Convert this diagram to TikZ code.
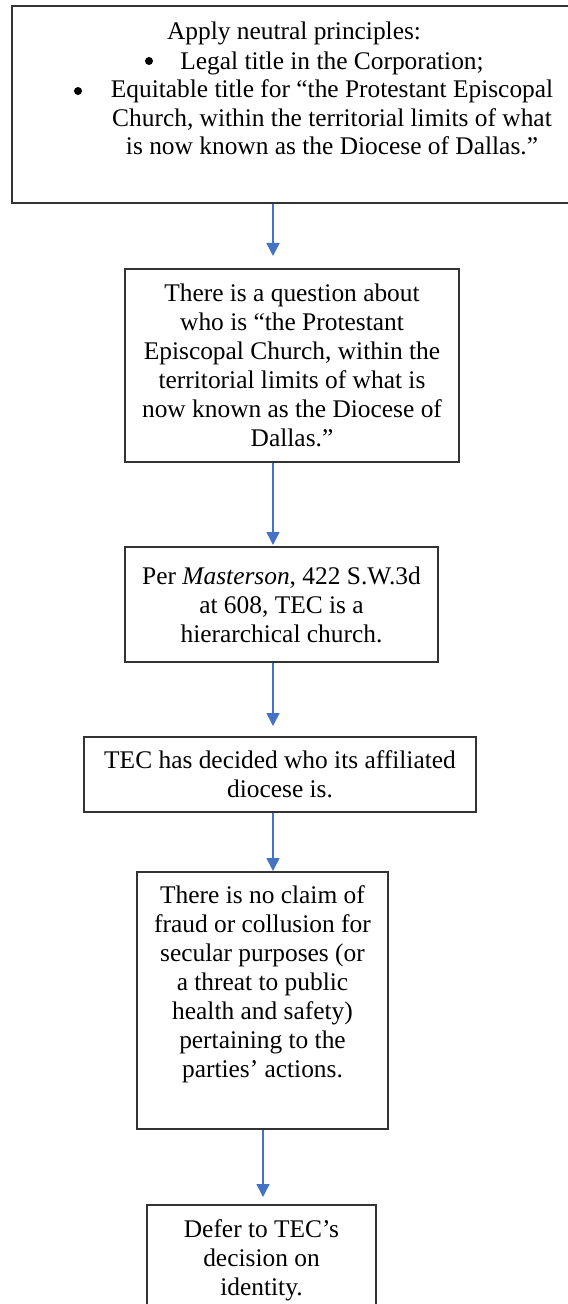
\documentclass[tikz,border=0pt]{standalone}
\usepackage{fontspec}
\setmainfont{Liberation Serif}
\usetikzlibrary{arrows.meta}

\definecolor{flowblue}{HTML}{4472C4}
\tikzset{
  stepbox/.style={draw=black!80, line width=1bp, inner sep=0pt, align=center,
    font=\fontsize{12.75}{14.5}\selectfont},
  plaintext/.style={inner sep=0pt, align=center, font=\fontsize{12.75}{14.25}\selectfont},
  dot/.style={circle, fill=black, inner sep=0pt, minimum size=4bp},
  flow/.style={draw=flowblue, line width=0.75bp, -{Triangle[width=6.5bp,length=6.5bp]}}
}

\begin{document}
\begin{tikzpicture}[x=0.5bp, y=-0.5bp]
    \useasboundingbox (0,0) rectangle (568,1304);
    \clip (0,0) rectangle (568,1304);
    % ---- Neutral principles ----
    \node[stepbox, minimum width=290bp, minimum height=98.5bp] (b1) at (302,104.5) {};
    \node[plaintext] (t1) at (294,33) {Apply neutral principles:};
    \node[plaintext] (t2) at (332,103.5) {Legal title in the Corporation;\\
      Equitable title for “the Protestant Episcopal\\
      Church, within the territorial limits of what\\
      is now known as the Diocese of Dallas.”};
    \node[dot] (d1) at (149,61) {};
    \node[dot] (d2) at (78,91) {};
    % ---- Steps ----
    \node[stepbox, minimum width=167bp, minimum height=96.5bp] (b2) at (292,365.5)
      {There is a question about\\ who is “the Protestant\\ Episcopal Church, within the\\
       territorial limits of what is\\ now known as the Diocese of\\ Dallas.”};
    \node[stepbox, minimum width=156.5bp, minimum height=57.5bp] (b3) at (281.5,604.5)
      {Per \textit{Masterson}, 422 S.W.3d\\ at 608, TEC is a\\ hierarchical church.};
    \node[stepbox, minimum width=196bp, minimum height=37.5bp] (b4) at (280,774.5)
      {TEC has decided who its affiliated\\ diocese is.};
    \node[stepbox, minimum width=125.5bp, minimum height=128.5bp] (b5) at (262.5,1000.5)
      {There is no claim of\\ fraud or collusion for\\ secular purposes (or\\ a threat to public\\
       health and safety)\\ pertaining to the\\ parties’ actions.\\ \strut};
    \node[stepbox, minimum width=114.5bp, minimum height=55bp] (b6) at (261.5,1260)
      {Defer to TEC’s\\ decision on\\ identity.};
    % ---- Arrows ----
    \coordinate (ax) at (273,0);
    \coordinate (bx) at (263,0);
    \draw[flow, shorten >=6bp] (ax |- b1.south) -- (ax |- b2.north);
    \draw[flow, shorten >=0.5bp] (ax |- b2.south) -- (ax |- b3.north);
    \draw[flow, shorten >=5bp] (ax |- b3.south) -- (ax |- b4.north);
    \draw[flow] (ax |- b4.south) -- (ax |- b5.north);
    \draw[flow, shorten >=3.5bp] (bx |- b5.south) -- (bx |- b6.north);
\end{tikzpicture}
\end{document}
